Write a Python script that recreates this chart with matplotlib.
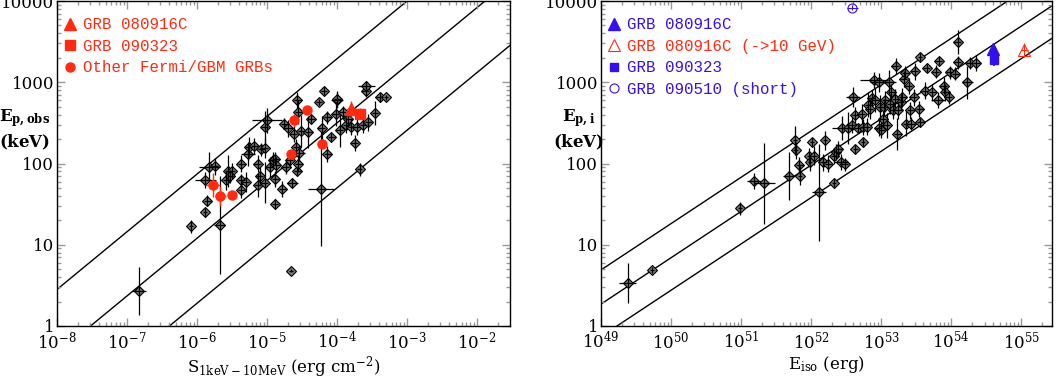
import numpy as np
import matplotlib
matplotlib.use('Agg')
import matplotlib.pyplot as plt
from matplotlib.ticker import LogLocator, LogFormatterMathtext, NullFormatter

plt.rcParams['font.family'] = 'DejaVu Serif'
plt.rcParams['mathtext.fontset'] = 'dejavuserif'

RED = '#ff2a10'
BLUE = '#3311ee'

# ---- left panel: fluence vs observed peak energy ----
left_S = [1.5e-7, 8.3e-7, 1.3e-6, 1.4e-6, 1.3e-6, 1.5e-6, 1.8e-6, 2.1e-6, 2.6e-6, 2.8e-6,
          3.2e-6, 3.0e-6, 4.3e-6, 4.3e-6, 4.3e-6, 5.0e-6, 5.3e-6, 5.5e-6, 6.6e-6, 7.4e-6,
          7.9e-6, 7.4e-6, 8.3e-6, 9.3e-6, 9.3e-6, 1.0e-5, 9.3e-6, 1.1e-5, 1.2e-5, 1.3e-5,
          1.3e-5, 1.3e-5, 1.35e-5, 1.65e-5, 1.75e-5, 1.85e-5, 2.0e-5, 2.1e-5, 2.3e-5, 2.2e-5,
          2.4e-5, 2.6e-5, 2.7e-5, 2.8e-5, 2.7e-5, 2.8e-5, 2.9e-5, 3.1e-5, 3.9e-5, 4.3e-5,
          5.5e-5, 6.0e-5, 5.9e-5, 6.5e-5, 7.3e-5, 7.3e-5, 8.3e-5, 9.5e-5, 1.0e-4, 1.0e-4,
          1.1e-4, 1.2e-4, 1.35e-4, 1.45e-4, 1.6e-4, 1.8e-4, 1.9e-4, 2.35e-4, 2.55e-4, 2.6e-4,
          2.8e-4, 3.5e-4, 4.1e-4, 5.0e-4, 2.1e-4]
left_E = [2.7, 17, 25, 35, 62, 91, 92, 17.5, 62, 81,
          80, 70, 100, 62, 47, 59, 132, 160, 165, 100,
          71, 54, 150, 155, 280, 340, 58, 91, 110, 115,
          65, 32, 95, 49, 310, 90, 270, 110, 57, 4.8,
          230, 160, 600, 430, 80, 100, 135, 250, 245, 350,
          570, 270, 49, 790, 130, 370, 210, 410, 600, 620,
          255, 430, 300, 355, 280, 180, 280, 300, 790, 910,
          320, 420, 650, 650, 85]
# errors in dex
left_ey = [0.3, 0.08, 0.06, 0.07, 0.1, 0.18, 0.1, 0.6, 0.12, 0.2,
           0.1, 0.08, 0.1, 0.08, 0.1, 0.12, 0.15, 0.12, 0.1, 0.1,
           0.1, 0.15, 0.08, 0.12, 0.2, 0.15, 0.25, 0.12, 0.1, 0.08,
           0.1, 0.06, 0.1, 0.1, 0.07, 0.08, 0.1, 0.1, 0.06, 0.02,
           0.1, 0.1, 0.1, 0.15, 0.05, 0.1, 0.1, 0.2, 0.2, 0.05,
           0.04, 0.15, 0.7, 0.05, 0.1, 0.08, 0.05, 0.15, 0.1, 0.1,
           0.2, 0.08, 0.1, 0.1, 0.1, 0.1, 0.1, 0.1, 0.08, 0.06,
           0.1, 0.15, 0.05, 0.03, 0.08]
left_ex = [0.1, 0.03, 0.03, 0.05, 0.15, 0.15, 0.05, 0.08, 0.05, 0.05,
           0.04, 0.05, 0.05, 0.05, 0.05, 0.05, 0.1, 0.05, 0.05, 0.05,
           0.05, 0.05, 0.05, 0.05, 0.05, 0.22, 0.05, 0.05, 0.05, 0.05,
           0.05, 0.04, 0.05, 0.05, 0.05, 0.05, 0.08, 0.05, 0.08, 0.03,
           0.05, 0.05, 0.05, 0.05, 0.05, 0.05, 0.08, 0.05, 0.05, 0.05,
           0.04, 0.05, 0.18, 0.04, 0.05, 0.05, 0.05, 0.05, 0.08, 0.05,
           0.05, 0.05, 0.05, 0.05, 0.05, 0.05, 0.05, 0.05, 0.05, 0.12,
           0.05, 0.04, 0.05, 0.03, 0.04]

fermi_S = [1.7e-6, 2.15e-6, 3.2e-6, 2.2e-5, 2.4e-5, 3.7e-5, 6.0e-5]
fermi_E = [54, 40, 41, 132, 340, 450, 175]
fermi_ey = [0.15, 0.12, 0.04, 0.05, 0.08, 0.06, 0.04]
fermi_ex = [0.1, 0.08, 0.05, 0.04, 0.05, 0.04, 0.06]

S_080916C, E_080916C = 1.6e-4, 470
S_090323, E_090323 = 2.1e-4, 410

# ---- right panel: Eiso vs rest-frame peak energy ----
right_Eiso = [2.4e49, 5.4e49, 9.7e50, 1.55e51, 2.15e51, 4.8e51, 5.9e51, 6.0e51, 6.8e51, 6.9e51,
              9.3e51, 9.6e51, 1.02e52, 1.1e52, 1.3e52, 1.5e52, 1.6e52, 1.75e52, 2.15e52, 2.15e52,
              2.3e52, 2.45e52, 2.7e52, 2.8e52, 3.0e52, 3.4e52, 3.8e52, 4.0e52, 4.3e52, 4.3e52,
              4.6e52, 5.3e52, 5.5e52, 5.6e52, 6.2e52, 6.5e52, 6.9e52, 7.4e52, 8.0e52, 8.2e52,
              9.2e52, 9.2e52, 9.7e52, 1.0e53, 1.05e53, 1.1e53, 1.15e53, 1.2e53, 1.3e53, 1.35e53,
              1.4e53, 1.5e53, 1.6e53, 1.63e53, 1.7e53, 1.75e53, 1.9e53, 2.0e53, 2.1e53, 2.2e53,
              2.3e53, 2.5e53, 2.6e53, 2.7e53, 2.9e53, 3.0e53, 3.5e53, 3.6e53, 3.6e53, 4.2e53,
              4.5e53, 5.4e53, 6.0e53, 6.5e53, 6.6e53, 7.9e53, 8.3e53, 9.2e53, 9.5e53, 1.15e54,
              1.25e54, 1.25e54, 1.7e54, 1.85e54, 2.3e54]
right_Ep = [3.4, 4.9, 28, 61, 57, 70, 192, 145, 95, 71,
            125, 103, 184, 125, 44, 103, 192, 100, 57, 125,
            138, 150, 105, 275, 98, 275, 295, 655, 150, 390,
            273, 410, 184, 280, 285, 530, 470, 640, 1070, 600,
            1000, 275, 490, 260, 355, 490, 600, 295, 1000, 540,
            750, 450, 620, 1600, 230, 450, 570, 650, 1100, 1300,
            310, 890, 450, 310, 650, 1360, 470, 2070, 320, 790,
            1480, 750, 1350, 610, 1840, 910, 750, 650, 1330, 1270,
            3150, 1760, 1000, 1730, 1730]
right_ey = [0.25, 0.04, 0.08, 0.1, 0.5, 0.3, 0.18, 0.1, 0.1, 0.12,
            0.1, 0.1, 0.05, 0.12, 0.6, 0.1, 0.12, 0.1, 0.05, 0.1,
            0.1, 0.1, 0.1, 0.15, 0.08, 0.2, 0.1, 0.12, 0.05, 0.1,
            0.05, 0.12, 0.05, 0.1, 0.1, 0.15, 0.12, 0.1, 0.1, 0.15,
            0.12, 0.1, 0.15, 0.1, 0.1, 0.1, 0.12, 0.15, 0.15, 0.12,
            0.1, 0.1, 0.12, 0.1, 0.2, 0.1, 0.1, 0.12, 0.1, 0.08,
            0.15, 0.1, 0.1, 0.08, 0.1, 0.1, 0.1, 0.05, 0.06, 0.1,
            0.05, 0.1, 0.08, 0.1, 0.05, 0.1, 0.1, 0.08, 0.08, 0.08,
            0.15, 0.08, 0.2, 0.07, 0.1]
right_ex = [0.12, 0.03, 0.03, 0.1, 0.15, 0.08, 0.03, 0.03, 0.05, 0.03,
            0.03, 0.03, 0.03, 0.05, 0.1, 0.05, 0.03, 0.05, 0.03, 0.05,
            0.05, 0.05, 0.1, 0.15, 0.05, 0.05, 0.05, 0.1, 0.03, 0.05,
            0.05, 0.05, 0.03, 0.05, 0.05, 0.05, 0.05, 0.05, 0.2, 0.05,
            0.12, 0.05, 0.05, 0.05, 0.05, 0.05, 0.05, 0.05, 0.1, 0.05,
            0.05, 0.05, 0.05, 0.05, 0.05, 0.05, 0.05, 0.05, 0.05, 0.05,
            0.05, 0.05, 0.05, 0.05, 0.05, 0.05, 0.05, 0.03, 0.05, 0.05,
            0.05, 0.05, 0.05, 0.1, 0.05, 0.05, 0.05, 0.05, 0.05, 0.05,
            0.05, 0.05, 0.08, 0.05, 0.05]

Eiso_080916C, Ep_080916C = 3.9e54, 2600
Eiso_080916C_hi, Ep_080916C_hi = 1.1e55, 2500
Eiso_090323, Ep_090323 = 4.1e54, 1880
Eiso_090510, Ep_090510 = 3.9e52, 8300

# correlation lines: (slope, log normalisation at reference x)
left_slope, left_logx0, left_norms = 0.71, -8.0, [0.45, -0.34, -1.14]
right_slope, right_logx0, right_norms = 0.57, 49.0, [0.69, 0.27, -0.13]


def dex_err(v, d):
    v = np.asarray(v, float)
    d = np.asarray(d, float)
    return np.vstack([v * (1 - 10 ** -d), v * (10 ** d - 1)])


def grey_points(ax, x, y, ex, ey):
    ax.plot(x, y, 'D', ms=5, mfc='#7a7a7a', mec='k', mew=0.8, zorder=3)
    ax.errorbar(x, y, xerr=dex_err(x, ex), yerr=dex_err(y, ey), fmt='none',
                ecolor='k', elinewidth=0.9, capsize=0, zorder=4)


def style_axes(ax, xlim):
    ax.set_xscale('log')
    ax.set_yscale('log')
    ax.set_xlim(*xlim)
    ax.set_ylim(1, 10000)
    ax.xaxis.set_major_locator(LogLocator(base=10, numticks=20))
    ax.xaxis.set_minor_locator(LogLocator(base=10, subs=np.arange(2, 10), numticks=20))
    ax.yaxis.set_major_locator(LogLocator(base=10, numticks=20))
    ax.yaxis.set_minor_locator(LogLocator(base=10, subs=np.arange(2, 10), numticks=20))
    ax.xaxis.set_major_formatter(LogFormatterMathtext())
    ax.xaxis.set_minor_formatter(NullFormatter())
    ax.yaxis.set_major_formatter(lambda v, p: '%d' % round(v))
    ax.tick_params(which='both', direction='in', top=True, right=True, color='#999999',
                   labelsize=12)
    ax.tick_params(axis='y', pad=2)
    ax.tick_params(which='major', length=6, width=1)
    ax.tick_params(which='minor', length=3, width=1)
    for sp in ax.spines.values():
        sp.set_linewidth(1)


def corr_lines(ax, slope, logx0, norms):
    lx = np.log10(ax.get_xlim())
    xs = np.logspace(lx[0], lx[1], 50)
    for n in norms:
        ax.plot(xs, 10 ** (n + slope * (np.log10(xs) - logx0)), 'k-', lw=1, zorder=1)


fig = plt.figure(figsize=(10.63, 3.78), dpi=100)
ax1 = fig.add_axes([57 / 1063, 52 / 378, 453 / 1063, 325 / 378])
ax2 = fig.add_axes([601 / 1063, 52 / 378, 451 / 1063, 325 / 378])

legend_kw = dict(loc='upper left', bbox_to_anchor=(-0.005, 0.982), frameon=False,
                 handlelength=0.7, handletextpad=0.45, labelspacing=0.42, borderaxespad=0.25,
                 prop={'family': 'Liberation Mono', 'size': 11.3})

# left
style_axes(ax1, (1e-8, 10 ** -1.53))
corr_lines(ax1, left_slope, left_logx0, left_norms)
grey_points(ax1, left_S, left_E, left_ex, left_ey)
ax1.errorbar(fermi_S, fermi_E, xerr=dex_err(fermi_S, fermi_ex), yerr=dex_err(fermi_E, fermi_ey),
             fmt='none', ecolor=RED, elinewidth=1, capsize=0, zorder=4)
ax1.errorbar([S_080916C, S_090323], [E_080916C, E_090323], xerr=dex_err([S_080916C, S_090323], [0.08, 0.05]),
             yerr=dex_err([E_080916C, E_090323], [0.1, 0.07]), fmt='none', ecolor=RED, elinewidth=1, zorder=4)
h1, = ax1.plot(S_080916C, E_080916C, '^', ms=8.5, color=RED, zorder=5, label='GRB 080916C')
h2, = ax1.plot(S_090323, E_090323, 's', ms=6.5, color=RED, zorder=5, label='GRB 090323')
h3, = ax1.plot(fermi_S, fermi_E, 'o', ms=6.5, color=RED, zorder=5, label='Other Fermi/GBM GRBs')
ax1.legend(handles=[h1, h2, h3], labelcolor=RED, **legend_kw)
ax1.set_xlabel(r'S$_{\rm 1keV-10MeV}$ (erg cm$^{-2}$)', fontsize=12, labelpad=1)
ax1.text(-0.072, 0.605, r'$\mathbf{E_{p,obs}}$' + '\n' + r'$\mathbf{(keV)}$', transform=ax1.transAxes,
         ha='center', va='center', fontsize=12, fontweight='bold', linespacing=1.3)

# right
style_axes(ax2, (1e49, 10 ** 55.44))
corr_lines(ax2, right_slope, right_logx0, right_norms)
grey_points(ax2, right_Eiso, right_Ep, right_ex, right_ey)
ax2.errorbar([Eiso_080916C, Eiso_090323], [Ep_080916C, Ep_090323],
             xerr=dex_err([Eiso_080916C, Eiso_090323], [0.02, 0.02]),
             yerr=dex_err([Ep_080916C, Ep_090323], [0.06, 0.07]), fmt='none', ecolor=BLUE, elinewidth=1.2, zorder=4)
ax2.errorbar([Eiso_080916C_hi], [Ep_080916C_hi], xerr=dex_err([Eiso_080916C_hi], [0.05]),
             yerr=dex_err([Ep_080916C_hi], [0.09]), fmt='none', ecolor=RED, elinewidth=0.8, zorder=4)
ax2.errorbar([Eiso_090510], [Ep_090510], xerr=dex_err([Eiso_090510], [0.08]),
             yerr=dex_err([Ep_090510], [0.03]), fmt='none', ecolor=BLUE, elinewidth=0.8, zorder=4)
g1, = ax2.plot(Eiso_080916C, Ep_080916C, '^', ms=8, color=BLUE, zorder=5, label='GRB 080916C')
g2, = ax2.plot(Eiso_080916C_hi, Ep_080916C_hi, '^', ms=8, mfc='none', mec=RED, mew=0.8, zorder=5,
               label='GRB 080916C (->10 GeV)')
g3, = ax2.plot(Eiso_090323, Ep_090323, 's', ms=6, color=BLUE, zorder=5, label='GRB 090323')
g4, = ax2.plot(Eiso_090510, Ep_090510, 'o', ms=6.5, mfc='none', mec=BLUE, mew=0.8, zorder=5,
               label='GRB 090510 (short)')
ax2.legend(handles=[g1, g2, g3, g4], labelcolor=[BLUE, RED, BLUE, BLUE], **legend_kw)
ax2.set_xlabel(r'E$_{\rm iso}$ (erg)', fontsize=12, labelpad=1)
ax2.text(-0.05, 0.605, r'$\mathbf{E_{p,i}}$' + '\n' + r'$\mathbf{(keV)}$', transform=ax2.transAxes,
         ha='center', va='center', fontsize=12, fontweight='bold', linespacing=1.3)

fig.savefig('out.png', dpi=100)
